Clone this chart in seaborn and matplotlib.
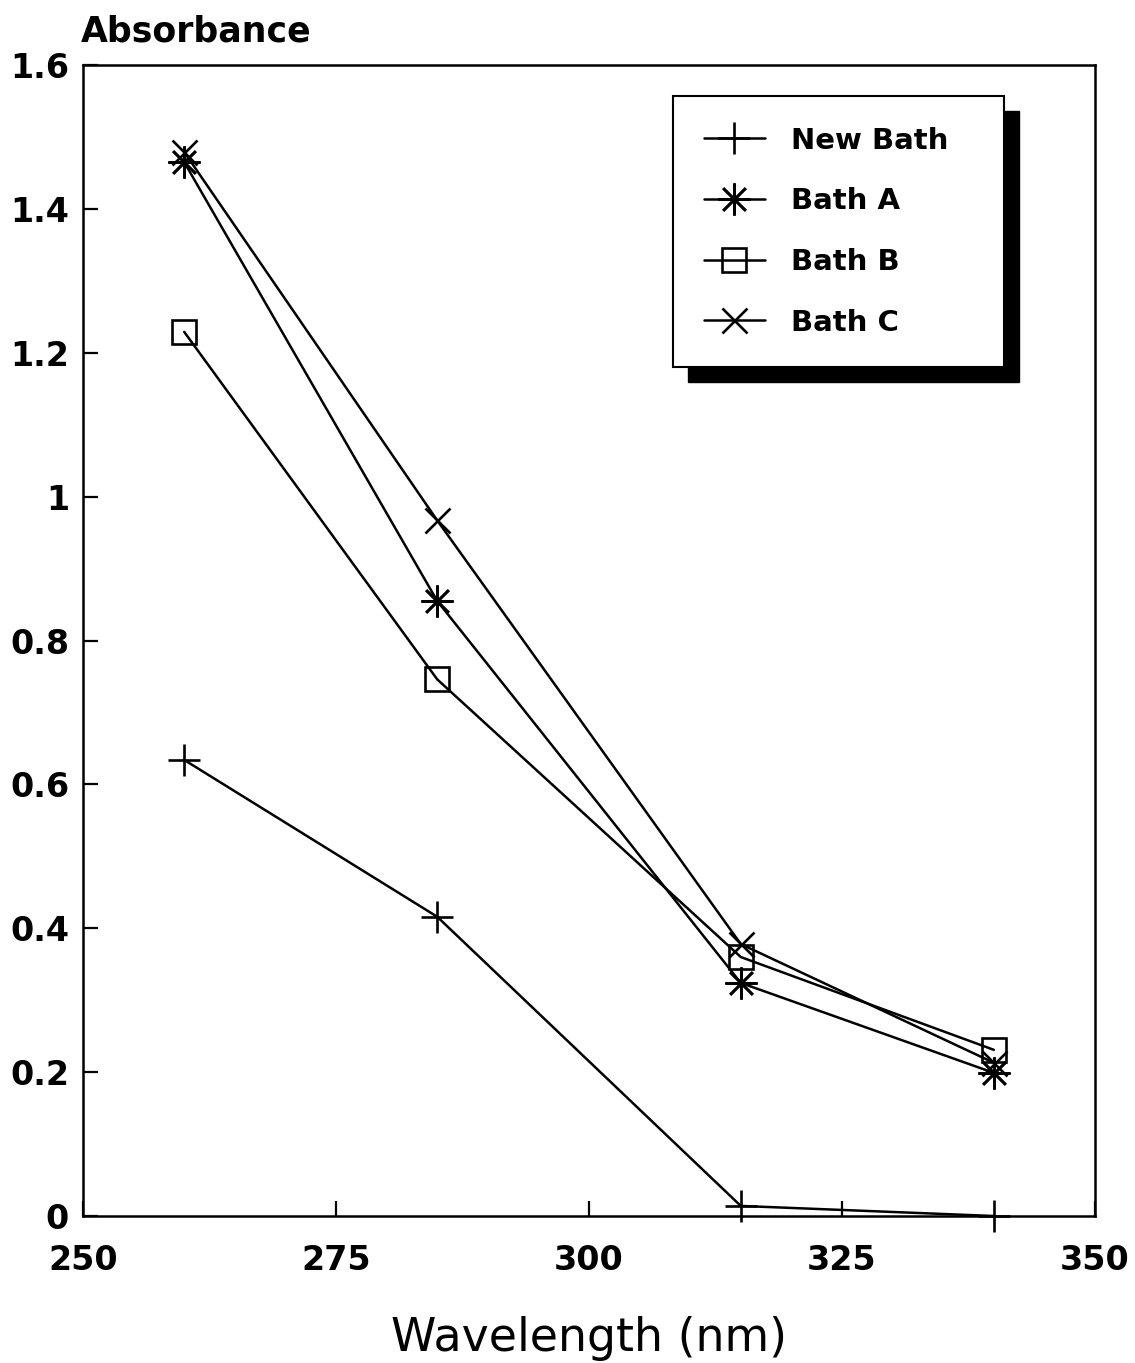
import matplotlib
matplotlib.use("Agg")
import matplotlib.pyplot as plt
import seaborn as sns
from matplotlib.patches import Rectangle

# ---- data ----
wavelength = [260, 285, 315, 340]
series_names = ["New Bath", "Bath A", "Bath B", "Bath C"]
new_bath = [0.634, 0.416, 0.014, 0.0]
bath_a = [1.465, 0.855, 0.324, 0.199]
bath_b = [1.229, 0.746, 0.360, 0.231]
bath_c = [1.479, 0.967, 0.378, 0.213]
x_ticks = [250, 275, 300, 325, 350]
y_ticks = [0, 0.2, 0.4, 0.6, 0.8, 1.0, 1.2, 1.4, 1.6]
y_tick_labels = ["0", "0.2", "0.4", "0.6", "0.8", "1", "1.2", "1.4", "1.6"]

sns.set_theme(style="ticks")
plt.rcParams["font.family"] = ["DejaVu Sans"]
plt.rcParams["text.color"] = "black"

fig = plt.figure(figsize=(11.35, 13.63), dpi=100)
ax = fig.add_axes([83 / 1135, 147 / 1363, 1012 / 1135, 1151 / 1363])

styles = [
    dict(marker="+", markersize=23),
    dict(marker=(8, 2, 0), markersize=23),
    dict(marker="s", markersize=17, markerfacecolor="none"),
    dict(marker="x", markersize=18),
]
values = [new_bath, bath_a, bath_b, bath_c]
for name, vals, st in zip(series_names, values, styles):
    sns.lineplot(x=wavelength, y=vals, ax=ax, color="black", linewidth=1.8,
                 markeredgecolor="black", markeredgewidth=1.9, label=name,
                 clip_on=False, **st)

ax.set_xlim(250, 350)
ax.set_ylim(0, 1.6)
ax.set_xticks(x_ticks)
ax.set_xticklabels([str(t) for t in x_ticks], fontweight="bold")
ax.set_yticks(y_ticks)
ax.set_yticklabels(y_tick_labels, fontweight="bold")
ax.tick_params(direction="in", length=11, width=1.6, labelsize=24, colors="black")
ax.tick_params(axis="y", pad=10)
ax.tick_params(axis="x", pad=20)
for s in ax.spines.values():
    s.set_linewidth(1.8)
    s.set_color("black")

ax.set_xlabel("Wavelength (nm)", fontsize=33, labelpad=28, color="black")
ax.set_ylabel("")
fig.text(81 / 1135, 1 - 42 / 1363, "Absorbance", fontsize=25, fontweight="bold",
         ha="left", va="baseline", color="black")

leg = ax.legend(loc="upper left", bbox_to_anchor=(0.583, 0.5, 0.327, 0.473),
                mode="expand", borderaxespad=0,
                prop={"size": 21, "weight": "bold"}, labelcolor="black",
                handlelength=2.1, handletextpad=0.9, labelspacing=1.12,
                borderpad=1.05, fancybox=False, frameon=True, framealpha=1,
                edgecolor="black")
leg.get_frame().set_linewidth(1.5)
leg.set_zorder(10)

fig.canvas.draw()
bb = leg.get_window_extent().transformed(fig.transFigure.inverted())
dx, dy = 15 / 1135, 15 / 1363
shadow = Rectangle((bb.x0 + dx, bb.y0 - dy), bb.width, bb.height,
                   transform=fig.transFigure, facecolor="black", edgecolor="black",
                   zorder=9, clip_on=False)
ax.add_artist(shadow)

fig.savefig("out.png", dpi=100, facecolor="white")
